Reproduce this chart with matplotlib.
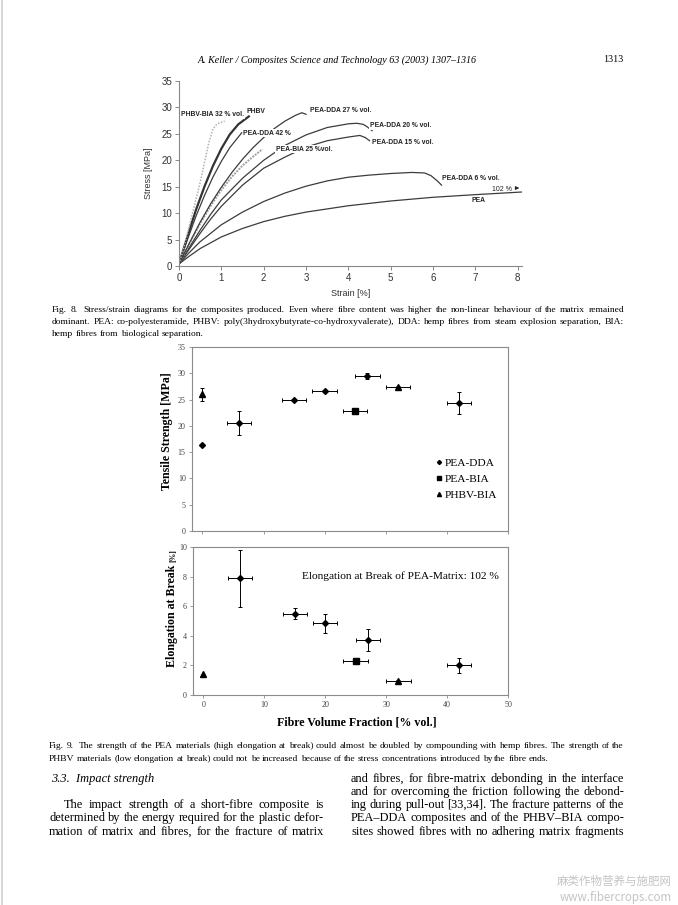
import numpy as np
import matplotlib
matplotlib.use("Agg")
import matplotlib.pyplot as plt
from matplotlib.lines import Line2D

plt.rcParams['font.family'] = ['Liberation Serif', 'DejaVu Serif']

# ---- Fig. 8 data: stress/strain curves ----
strain_phbv_bia32 = [0, 0.1, 0.2, 0.3, 0.4, 0.5, 0.6, 0.7, 0.8, 0.9, 1.08]
stress_phbv_bia32 = [0.4, 3.0, 6.2, 9.4, 12.6, 15.8, 19.5, 23.2, 25.9, 26.9, 27.4]
strain_phbv = [0, 0.2, 0.4, 0.6, 0.8, 1.0, 1.2, 1.4, 1.65]
stress_phbv = [0.4, 5.6, 10.6, 15.0, 18.9, 22.2, 24.9, 26.8, 28.3]
strain_dda42 = [0, 0.2, 0.4, 0.6, 0.8, 1.0, 1.2, 1.48]
stress_dda42 = [0.4, 5.0, 9.4, 13.3, 16.8, 19.8, 22.4, 25.2]
strain_dda27 = [0, 0.25, 0.5, 0.75, 1.0, 1.25, 1.5, 1.75, 2.0, 2.25, 2.5, 2.75, 2.9, 3.0]
stress_dda27 = [0.4, 4.4, 8.3, 11.8, 14.9, 17.7, 20.2, 22.4, 24.3, 26.0, 27.4, 28.5, 29.0, 28.7]
strain_bia25 = [0, 0.25, 0.5, 0.75, 1.0, 1.25, 1.5, 1.75, 1.97]
stress_bia25 = [0.4, 4.3, 8.0, 11.4, 14.4, 16.9, 19.0, 20.7, 22.1]
strain_dda20 = [0, 0.25, 0.5, 0.75, 1.0, 1.5, 2.0, 2.5, 3.0, 3.5, 4.0, 4.2, 4.35, 4.45, 4.56]
stress_dda20 = [0.4, 3.6, 6.8, 9.8, 12.5, 16.6, 20.0, 22.8, 24.8, 26.2, 26.9, 27.0, 26.8, 26.3, 25.6]
strain_dda15 = [0, 0.25, 0.5, 0.75, 1.0, 1.5, 2.0, 2.5, 3.0, 3.5, 4.0, 4.27, 4.4, 4.5]
stress_dda15 = [0.4, 3.3, 6.2, 8.9, 11.3, 15.3, 18.5, 20.6, 22.5, 23.7, 24.4, 24.7, 24.3, 23.7]
strain_dda6 = [0, 0.25, 0.5, 1.0, 1.5, 2.0, 2.5, 3.0, 3.5, 4.0, 4.5, 5.0, 5.5, 5.8, 5.95, 6.1, 6.2]
stress_dda6 = [0.4, 2.6, 4.6, 7.8, 10.2, 12.2, 13.8, 15.1, 16.1, 16.8, 17.2, 17.5, 17.7, 17.6, 17.1, 16.1, 15.3]
strain_pea = [0, 0.25, 0.5, 1.0, 1.5, 2.0, 2.5, 3.0, 4.0, 5.0, 6.0, 7.0, 8.1]
stress_pea = [0.4, 1.9, 3.3, 5.5, 7.1, 8.4, 9.4, 10.2, 11.4, 12.3, 13.0, 13.5, 14.0]

# ---- Fig. 9 data ----
dda_vf = [0, 6, 15, 20, 27, 42]
dda_vf_err = [0, 2, 2, 2, 2, 2]
dda_ts = [16.4, 20.5, 24.9, 26.7, 29.5, 24.3]
dda_ts_err = [0, 2.3, 0.2, 0.2, 0.6, 2.1]
dda_el = [102, 7.9, 5.5, 4.85, 3.7, 2.0]
dda_el_err = [0, 1.93, 0.35, 0.63, 0.74, 0.52]

bia_vf = [25]
bia_vf_err = [2]
bia_ts = [22.9]
bia_ts_err = [0.3]
bia_el = [2.33]
bia_el_err = [0.1]

phbv_vf = [0, 32]
phbv_vf_err = [0, 2]
phbv_ts = [26.0, 27.3]
phbv_ts_err = [1.2, 0.3]
phbv_el = [1.4, 0.95]
phbv_el_err = [0, 0.08]

W, H = 678, 905
fig = plt.figure(figsize=(W / 100, H / 100), dpi=100)
fig.patch.set_facecolor('white')
renderer = fig.canvas.get_renderer()

# scan edge on the left of the page
fig.add_artist(Line2D([2 / W, 2 / W], [0, 1], color='#cfcfcf', lw=1.2, transform=fig.transFigure))


def box(l, t, r, b):
    # pixel box -> figure fraction
    return [l / W, 1 - b / H, (r - l) / W, (b - t) / H]


def ftext(x, y, s, **kw):
    return fig.text(x / W, 1 - y / H, s, **kw)


def justify(x0, x1, y, line, size, stretch=True):
    # y is the baseline; spread the words of one line between x0 and x1 (pixels)
    words = line.split(' ')
    widths = []
    for w in words:
        t = ftext(0, 0, w, fontsize=size)
        widths.append(t.get_window_extent(renderer).width)
        t.remove()
    space = size * 0.25 * 100 / 72
    if stretch:
        space = (x1 - x0 - sum(widths)) / max(len(words) - 1, 1)
    x = x0
    for w, wd in zip(words, widths):
        ftext(x, y, w, fontsize=size, ha='left', va='baseline')
        x += wd + space


# header
ftext(337, 60, 'A. Keller / Composites Science and Technology 63 (2003) 1307\u20131316',
      ha='center', va='center', fontsize=7.2, style='italic')
ftext(623, 60, '1313', ha='right', va='center', fontsize=7.2)

# ---------------- Fig. 8 ----------------
sans = ['Liberation Sans', 'DejaVu Sans']
ax8 = fig.add_axes(box(179, 81, 522, 266))
dark = '#3c3c3c'
ax8.plot(strain_pea, stress_pea, color=dark, lw=0.9)
ax8.plot(strain_dda6, stress_dda6, color=dark, lw=0.9)
ax8.plot(strain_dda15, stress_dda15, color=dark, lw=0.9)
ax8.plot(strain_dda20, stress_dda20, color=dark, lw=0.9)
ax8.plot(strain_bia25, stress_bia25, color='#a0a0a0', lw=1.4, ls=(0, (1, 0.6)))
ax8.plot(strain_dda27, stress_dda27, color=dark, lw=0.9)
ax8.plot(strain_dda42, stress_dda42, color=dark, lw=0.9)
ax8.plot(strain_phbv, stress_phbv, color='#333333', lw=1.6)
ax8.plot(strain_phbv_bia32, stress_phbv_bia32, color='#b0b0b0', lw=1.1, ls=(0, (1, 1)))

ax8.set_xlim(0, 8.1)
ax8.set_ylim(0, 35)
ax8.set_xticks(range(0, 9))
ax8.set_yticks(range(0, 36, 5))
for s in ['top', 'right']:
    ax8.spines[s].set_visible(False)
for s in ['left', 'bottom']:
    ax8.spines[s].set_color('#888888')
    ax8.spines[s].set_linewidth(0.8)
ax8.tick_params(length=3, width=0.7, color='#888888', labelsize=7, labelcolor='#333333', pad=2)
for lab in ax8.get_xticklabels() + ax8.get_yticklabels():
    lab.set_family(sans)
ax8.set_xlabel('Strain [%]', fontsize=6.5, family=sans, color='#333333', labelpad=4)
ax8.set_ylabel('Stress [MPa]', fontsize=6.5, family=sans, color='#333333', labelpad=6)

lab_kw = dict(fontsize=4.9, fontweight='bold', family=sans, color='#222222', va='center', ha='left',
              zorder=5, bbox=dict(facecolor='white', edgecolor='none', pad=0.4))
ax8.text(0.05, 28.6, 'PHBV-BIA 32 % vol.', **lab_kw)
ax8.text(1.6, 29.3, 'PHBV', **lab_kw)
ax8.text(1.52, 25.1, 'PEA-DDA 42 %', **lab_kw)
ax8.text(3.1, 29.5, 'PEA-DDA 27 % vol.', **lab_kw)
ax8.text(2.28, 22.1, 'PEA-BIA 25 %vol.', **lab_kw)
ax8.text(4.5, 26.5, 'PEA-DDA 20 % vol.', **lab_kw)
ax8.text(4.56, 23.3, 'PEA-DDA 15 % vol.', **lab_kw)
ax8.text(6.22, 16.5, 'PEA-DDA 6 % vol.', **lab_kw)
ax8.text(6.9, 12.4, 'PEA', **lab_kw)
ax8.text(7.86, 14.5, '102 %', fontsize=5, family=sans, color='#222222', ha='right', va='center')
ax8.annotate('', xy=(8.1, 14.75), xytext=(7.88, 14.75),
             arrowprops=dict(arrowstyle='-|>', color='#222222', lw=0.7, mutation_scale=5))

cap8 = ['Fig. 8.  Stress/strain diagrams for the composites produced. Even where fibre content was higher the non-linear behaviour of the matrix remained',
        'dominant. PEA: co-polyesteramide, PHBV: poly(3hydroxybutyrate-co-hydroxyvalerate), DDA: hemp fibres from steam explosion separation, BIA:',
        'hemp fibres from biological separation.']
justify(52, 624, 311.5, cap8[0], 6.8)
justify(52, 624, 324, cap8[1], 6.8)
justify(52, 624, 336.5, cap8[2], 6.8, stretch=False)

# ---------------- Fig. 9 ----------------
def panel(ax, ylim, yticks):
    ax.set_xlim(-1.7, 50)
    ax.set_ylim(*ylim)
    ax.set_xticks(range(0, 51, 10))
    ax.set_yticks(yticks)
    for s in ax.spines.values():
        s.set_color('#8a8a8a')
        s.set_linewidth(0.8)
    ax.tick_params(length=2.5, width=0.6, color='#8a8a8a', labelsize=5.8, labelcolor='#444444', pad=2)


def draw(ax, vf, vf_err, val, val_err, marker, ms, label=None):
    vf = np.array(vf, float)
    val = np.array(val, float)
    xe = np.array(vf_err, float)
    ye = np.array(val_err, float)
    m = (xe > 0) | (ye > 0)
    if m.any():
        ax.errorbar(vf[m], val[m], xerr=xe[m], yerr=ye[m], fmt='none', ecolor='black',
                    elinewidth=0.7, capsize=1.6, capthick=0.7)
    ax.plot(vf, val, ls='none', marker=marker, ms=ms, color='black', label=label)


ax9a = fig.add_axes(box(192, 347, 508, 531))
panel(ax9a, (0, 35), range(0, 36, 5))
ax9a.set_xticklabels([])
draw(ax9a, dda_vf, dda_vf_err, dda_ts, dda_ts_err, 'D', 3.0, 'PEA-DDA')
draw(ax9a, bia_vf, bia_vf_err, bia_ts, bia_ts_err, 's', 4.5, 'PEA-BIA')
draw(ax9a, phbv_vf, phbv_vf_err, phbv_ts, phbv_ts_err, '^', 4.2, 'PHBV-BIA')
ax9a.legend(loc='upper left', bbox_to_anchor=(0.755, 0.43), frameon=False, fontsize=8.2,
            handlelength=0.4, handletextpad=0.3, labelspacing=0.55, borderpad=0, markerscale=0.7)

ax9b = fig.add_axes(box(193, 547, 508, 695))
panel(ax9b, (0, 10), range(0, 11, 2))
draw(ax9b, dda_vf, dda_vf_err, dda_el, dda_el_err, 'D', 3.0)
draw(ax9b, bia_vf, bia_vf_err, bia_el, bia_el_err, 's', 4.5)
draw(ax9b, phbv_vf, phbv_vf_err, phbv_el, phbv_el_err, '^', 4.2)
ax9b.text(0.97, 0.805, 'Elongation at Break of PEA-Matrix: 102 %', transform=ax9b.transAxes,
          ha='right', va='center', fontsize=8.2)

ftext(167, 431, 'Tensile Strength [MPa]', rotation=90, ha='center', va='center',
      fontsize=8.6, fontweight='bold')
ftext(172, 565, 'Elongation at Break', rotation=90, ha='center', va='top',
      fontsize=8.6, fontweight='bold')
ftext(173, 562, '[%]', rotation=90, ha='center', va='bottom', fontsize=5.5, fontweight='bold')
ftext(357, 722, 'Fibre Volume Fraction [% vol.]', ha='center', va='center',
      fontsize=8.6, fontweight='bold')

cap9 = ['Fig. 9.  The strength of the PEA materials (high elongation at break) could almost be doubled by compounding with hemp fibres. The strength of the',
        'PHBV materials (low elongation at break) could not be increased because of the stress concentrations introduced by the fibre ends.']
justify(49, 624, 747.5, cap9[0], 6.8)
justify(49, 624, 760.5, cap9[1], 6.8, stretch=False)

# body text
ftext(51, 781.5, '3.3.  Impact strength', fontsize=8.9, style='italic', ha='left', va='baseline')
left_col = ['The impact strength of a short-fibre composite is',
            'determined by the energy required for the plastic defor-',
            'mation of matrix and fibres, for the fracture of matrix']
justify(64, 324, 808, left_col[0], 8.9)
justify(49, 324, 821.3, left_col[1], 8.9)
justify(49, 324, 834.6, left_col[2], 8.9)
right_col = ['and fibres, for fibre-matrix debonding in the interface',
             'and for overcoming the friction following the debond-',
             'ing during pull-out [33,34]. The fracture patterns of the',
             'PEA\u2013DDA composites and of the PHBV\u2013BIA compo-',
             'sites showed fibres with no adhering matrix fragments']
for i, line in enumerate(right_col):
    justify(351, 624, 781.5 + i * 13.3, line, 8.9)

# watermark
ftext(672, 881, '麻类作物营养与施肥网', fontsize=8.3, color='#c4c4c4', ha='right', va='center',
      family=['Noto Sans CJK SC', 'DejaVu Sans'])
ftext(672, 897, 'www.fibercrops.com', fontsize=8.3, color='#c4c4c4', ha='right', va='center',
      family=['Noto Sans CJK SC', 'DejaVu Sans'])

fig.savefig('out.png', dpi=100)
